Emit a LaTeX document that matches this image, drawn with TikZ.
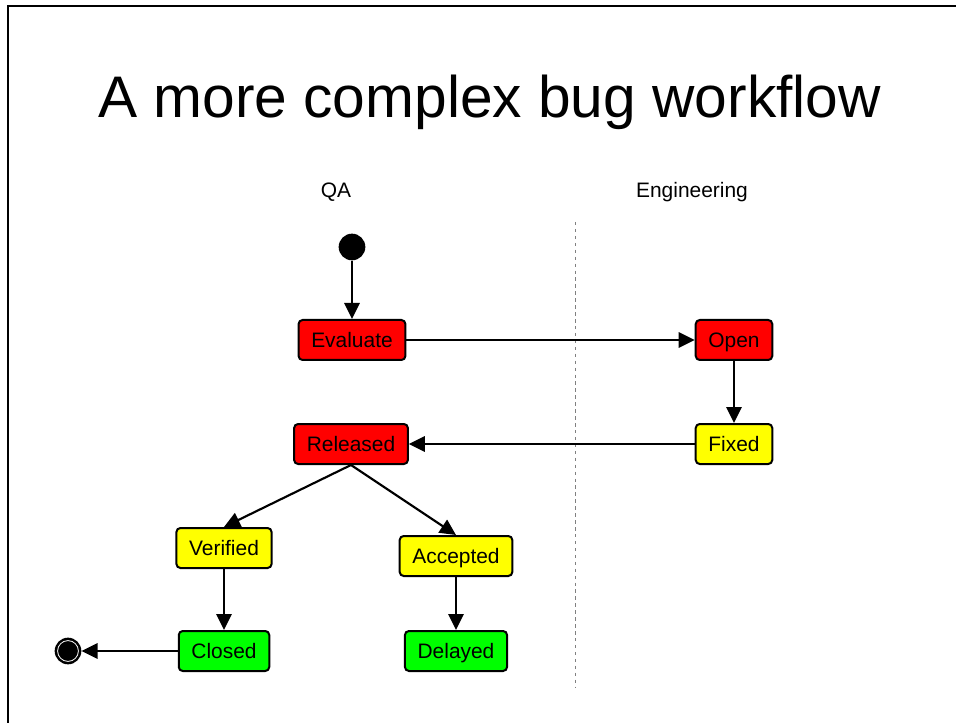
\documentclass[tikz,border=0pt]{standalone}
\usepackage{fontspec}
\setmainfont{Liberation Sans}
\usetikzlibrary{arrows.meta}

\definecolor{statered}{RGB}{255,0,0}
\definecolor{stateyellow}{RGB}{255,255,0}
\definecolor{stategreen}{RGB}{0,255,0}

\tikzset{
    state/.style={draw, line width=1.5pt, rounded corners=3pt, minimum height=30pt,
        inner xsep=9.5pt, text height=11.2pt, text depth=0pt,
        font=\fontsize{15.7}{18}\selectfont},
    flow/.style={line width=1.6pt, -{Triangle[length=12pt,width=11.5pt]}},
    lane/.style={anchor=base, font=\fontsize{15.7}{18}\selectfont},
    initial/.style={circle, fill=black, inner sep=0pt, minimum size=20pt},
    final/.style={circle, fill=black, inner sep=0pt, minimum size=20pt},
}

\begin{document}
\begin{tikzpicture}[x=0.75pt,y=-0.75pt]
    \useasboundingbox (0,0) rectangle (956,723);

    % Frame
    \draw[line width=1.5pt] (8,723) -- (8,6.5) -- (956,6.5);

    % Title
    \node[anchor=base west, inner sep=0pt, font=\fontsize{44}{50}\selectfont] (title) at (98,118) {A more complex bug workflow};

    % Swimlanes
    \node[lane] (qa) at (336,198) {QA};
    \node[lane] (eng) at (692,198) {Engineering};
    \coordinate (laneTop) at (575,222);
    \coordinate (laneBot) at (575,688);
    \draw[gray, line width=0.75pt, dash pattern=on 2.6pt off 2.6pt] (laneTop) -- (laneBot);

    % States
    \node[initial] (start) at (352,247) {};
    \node[state, fill=statered] (evaluate) at (352,340) {Evaluate};
    \node[state, fill=statered] (open) at (734,340) {Open};
    \node[state, fill=stateyellow] (fixed) at (734,444) {Fixed};
    \node[state, fill=statered] (released) at (351,444) {Released};
    \node[state, fill=stateyellow] (verified) at (224,548) {Verified};
    \node[state, fill=stateyellow] (accepted) at (456,556) {Accepted};
    \node[state, fill=stategreen] (closed) at (224,651) {Closed};
    \node[state, fill=stategreen] (delayed) at (456,651) {Delayed};
    \node[final] (done) at (68,651) {};
    \draw[white, line width=0.6pt] (done.center) circle (7.8pt);

    % Transitions
    \draw[flow] (start) -- (evaluate);
    \draw[flow] (evaluate) -- (open);
    \draw[flow] (open) -- (fixed);
    \draw[flow] (fixed) -- (released);
    \draw[flow] (released.south) -- (verified.north);
    \draw[flow] (released.south) -- (accepted.north);
    \draw[flow] (verified) -- (closed);
    \draw[flow] (accepted) -- (delayed);
    \draw[flow] (closed) -- (done);
\end{tikzpicture}
\end{document}
